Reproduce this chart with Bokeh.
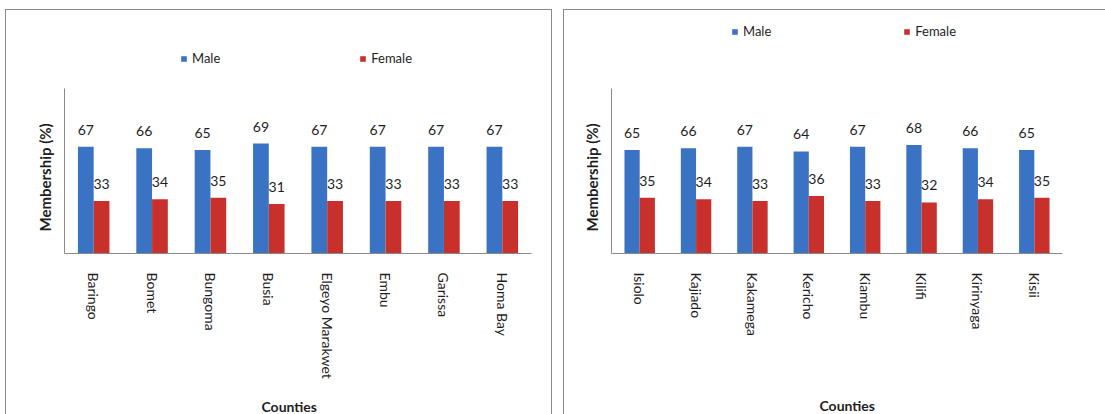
from bokeh.plotting import figure
from bokeh.layouts import row
from bokeh.models import ColumnDataSource, FactorRange, Range1d, FixedTicker, Legend, LegendItem, Title
from bokeh.transform import dodge
from bokeh.embed import file_html
from bokeh.resources import INLINE

# Membership by sex (%) for two groups of counties
counties_a = ["Baringo", "Bomet", "Bungoma", "Busia", "Elgeyo Marakwet", "Embu", "Garissa", "Homa Bay"]
male_a = [67, 66, 65, 69, 67, 67, 67, 67]
female_a = [33, 34, 35, 31, 33, 33, 33, 33]

counties_b = ["Isiolo", "Kajiado", "Kakamega", "Kericho", "Kiambu", "Kilifi", "Kirinyaga", "Kisii"]
male_b = [65, 66, 67, 64, 67, 68, 66, 65]
female_b = [35, 34, 33, 36, 33, 32, 34, 35]

MALE_COLOR = "#3b73c4"
FEMALE_COLOR = "#c8302c"
AXIS_COLOR = "#8a8a8a"
TEXT_COLOR = "#1e1e1e"
FONT = "Lato"
BAR_W = 0.27
Y_MAX = 148.7     # frame extends above the value axis to hold the legend
AXIS_TOP = 103.5  # visible extent of the value axis line


def axis_title(text, side_offset, standoff, align_v="bottom"):
    return Title(text=text, align="left", offset=side_offset, standoff=standoff,
                 vertical_align=align_v, text_font=FONT, text_font_size="14px",
                 text_font_style="bold", text_color=TEXT_COLOR)


def panel(counties, male, female, frame_w, border_left, border_right,
          legend_loc, legend_spacing, xtitle_offset, xtitle_standoff, border):
    src = ColumnDataSource(dict(
        county=counties, male=male, female=female,
        male_lbl=[str(v) for v in male], female_lbl=[str(v) for v in female],
    ))
    p = figure(
        frame_width=frame_w, frame_height=236,
        x_range=FactorRange(*counties, range_padding=0),
        y_range=Range1d(0, Y_MAX),
        output_backend="svg", toolbar_location=None,
        min_border_left=border_left, min_border_right=border_right,
        min_border_top=6, min_border_bottom=150,
    )
    p.styles = border
    p.outline_line_color = None
    p.xgrid.grid_line_color = None
    p.ygrid.grid_line_color = None
    p.background_fill_color = "white"
    p.border_fill_color = "white"

    rm = p.vbar(x=dodge("county", -BAR_W / 2, range=p.x_range), top="male", width=BAR_W,
                source=src, fill_color=MALE_COLOR, line_color=None)
    rf = p.vbar(x=dodge("county", BAR_W / 2, range=p.x_range), top="female", width=BAR_W,
                source=src, fill_color=FEMALE_COLOR, line_color=None)

    for col, off in (("male", -BAR_W / 2), ("female", BAR_W / 2)):
        p.text(x=dodge("county", off, range=p.x_range), y=col, text=col + "_lbl", source=src,
               text_align="center", text_baseline="bottom", y_offset=-12,
               text_font_size="14px", text_color=TEXT_COLOR, text_font={"value": FONT})

    # y axis: bare line, titled separately so the title sits beside the line
    p.yaxis.ticker = FixedTicker(ticks=[])
    p.yaxis.bounds = (0, AXIS_TOP)
    p.yaxis.axis_line_color = AXIS_COLOR
    p.yaxis.major_tick_line_color = None
    p.yaxis.minor_tick_line_color = None
    p.yaxis.major_tick_out = 0
    p.yaxis.major_tick_in = 0
    ytitle = axis_title("Membership (%)", 22, 22)
    ytitle.text_font_size = "15px"
    p.add_layout(ytitle, "left")

    # x axis: vertical county names
    p.xaxis.axis_line_color = AXIS_COLOR
    p.xaxis.major_tick_line_color = None
    p.xaxis.major_tick_out = 0
    p.xaxis.major_tick_in = 0
    p.xaxis.major_label_orientation = "vertical"
    p.xaxis.major_label_standoff = 19
    p.xaxis.major_label_text_font = FONT
    p.xaxis.major_label_text_font_size = "14px"
    p.xaxis.major_label_text_color = TEXT_COLOR
    p.add_layout(axis_title("Counties", xtitle_offset, xtitle_standoff, "top"), "below")

    legend = Legend(
        items=[LegendItem(label="Male", renderers=[rm]), LegendItem(label="Female", renderers=[rf])],
        location=legend_loc, orientation="horizontal", spacing=legend_spacing,
        glyph_width=7, glyph_height=7, label_standoff=5, padding=0, margin=0,
        border_line_color=None, background_fill_alpha=0,
        label_text_font=FONT, label_text_font_size="13px", label_text_color=TEXT_COLOR,
    )
    p.add_layout(legend)
    return p


left = panel(counties_a, male_a, female_a, frame_w=465, border_left=58, border_right=22,
             legend_loc=(116, 187), legend_spacing=139, xtitle_offset=197, xtitle_standoff=32,
             border={"border-left": f"1px solid {AXIS_COLOR}", "border-top": f"1px solid {AXIS_COLOR}",
                     "border-right": f"1px solid {AXIS_COLOR}"})
left.margin = (9, 0, 0, 5)

right = panel(counties_b, male_b, female_b, frame_w=450, border_left=47, border_right=44,
              legend_loc=(120, 214), legend_spacing=132, xtitle_offset=208, xtitle_standoff=116,
              border={"border-left": f"1px solid {AXIS_COLOR}", "border-top": f"1px solid {AXIS_COLOR}"})
right.margin = (9, 0, 0, 11)

layout = row(left, right)
open("out.html", "w").write(file_html(layout, INLINE))
